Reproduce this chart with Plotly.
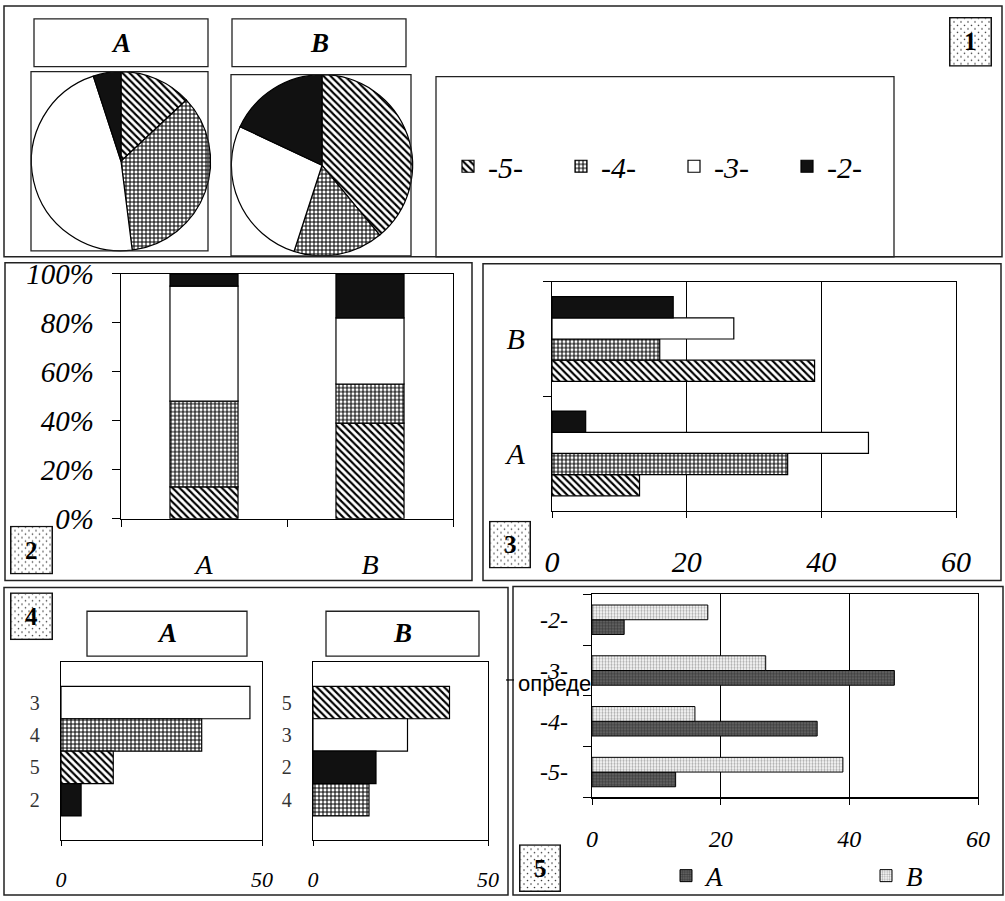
import base64
import plotly.graph_objects as go

W, H = 1005, 901


def X(p):
    return p / W


def Y(p):
    return 1 - p / H


# ---------------- data ----------------
grades = ["-5-", "-4-", "-3-", "-2-"]
grade_digits = ["5", "4", "3", "2"]
groups = ["A", "B"]
vals_A = [13, 35, 47, 5]
vals_B = [39, 16, 27, 18]
pct_ticks = [0, 20, 40, 60, 80, 100]
pct_labels = ["0%", "20%", "40%", "60%", "80%", "100%"]
count_ticks = [0, 20, 40, 60]
count_ticks_p4 = [0, 50]

# ---------------- styles ----------------
SERIF = "Liberation Serif"
fill_color = ["white", "white", "white", "#111111"]
fill_shape = ["\\", "+", "", ""]
pat_size = [5, 4, 6, 6]
pat_sol = [0.42, 0.45, 0.3, 0.3]


def italic(size, color="black"):
    return dict(family=SERIF, size=size, style="italic", color=color)


def bar_marker(i):
    return dict(color=fill_color[i], line=dict(color="black", width=1.2),
                pattern=dict(shape=fill_shape[i], fgcolor="black", bgcolor=fill_color[i],
                             size=pat_size[i], solidity=pat_sol[i], fillmode="replace"))


mark_A5 = dict(color="#555555", line=dict(color="black", width=1),
               pattern=dict(shape=".", fgcolor="#111111", bgcolor="#6a6a6a", size=3, solidity=0.55))
mark_B5 = dict(color="white", line=dict(color="black", width=1),
               pattern=dict(shape=".", fgcolor="#555555", bgcolor="white", size=3, solidity=0.45))

fig = go.Figure()

# ---------------- panel 1: pies ----------------
for vals, (x0, x1, y0, y1) in [(vals_A, (31, 211, 72, 252)), (vals_B, (231, 413, 75, 257))]:
    fig.add_trace(go.Pie(
        labels=grades, values=vals, sort=False, direction="clockwise", rotation=0,
        domain=dict(x=[X(x0), X(x1)], y=[Y(y1), Y(y0)]),
        marker=dict(colors=fill_color, line=dict(color="black", width=1.2),
                    pattern=dict(shape=fill_shape, fgcolor="black", bgcolor=fill_color,
                                 size=pat_size, solidity=pat_sol)),
        textinfo="none", hoverinfo="label+value", legend="legend", showlegend=True))

# ---------------- panel 2: 100% stacked columns ----------------
totals = [sum(vals_A), sum(vals_B)]
cum = [0.0, 0.0]
for i, g in enumerate(grades):
    v = [vals_A[i] / totals[0] * 100, vals_B[i] / totals[1] * 100]
    fig.add_trace(go.Bar(x=groups, y=v, base=list(cum), width=0.41, name=g,
                         marker=bar_marker(i), xaxis="x2", yaxis="y2", showlegend=False))
    cum = [c + vv for c, vv in zip(cum, v)]

# ---------------- panel 3: clustered horizontal bars ----------------
W3 = 0.185
for i, g in enumerate(grades):
    fig.add_trace(go.Bar(y=groups, x=[vals_A[i], vals_B[i]], orientation="h", width=W3,
                         offset=-2 * W3 + i * W3, name=g, marker=bar_marker(i),
                         xaxis="x3", yaxis="y3", showlegend=False))

# ---------------- panel 4: sorted bars per group ----------------
cat_arrays = []
for vals, xa, ya in [(vals_A, "x4", "y4"), (vals_B, "x5", "y5")]:
    order = sorted(range(len(vals)), key=lambda k: vals[k], reverse=True)
    for k in order:
        fig.add_trace(go.Bar(y=[grade_digits[k]], x=[vals[k]], orientation="h", width=1,
                             name=grades[k], marker=bar_marker(k), xaxis=xa, yaxis=ya,
                             showlegend=False))
    cat_arrays.append([grade_digits[k] for k in reversed(order)])

# ---------------- panel 5: bars by grade ----------------
W5 = 0.29
for vals, name, off, mk, lw in [(vals_A, "A", -W5, mark_A5, 155), (vals_B, "B", 0.0, mark_B5, 30)]:
    fig.add_trace(go.Bar(y=grades, x=vals, orientation="h", width=W5, offset=off, name=name,
                         marker=mk, xaxis="x6", yaxis="y6", legend="legend2", showlegend=True,
                         legendwidth=lw))


def ax(**kw):
    base = dict(showline=True, linecolor="black", linewidth=1.2, mirror=True, zeroline=False,
                showgrid=False, ticks="outside", tickcolor="black", fixedrange=True,
                automargin=False)
    base.update(kw)
    return base


layout = dict(
    width=W, height=H, autosize=False,
    margin=dict(l=0, r=0, t=0, b=0, pad=0),
    paper_bgcolor="white", plot_bgcolor="white",
    barmode="overlay",
    font=dict(family=SERIF, color="black"),
    xaxis2=ax(domain=[X(121), X(453)], anchor="y2", type="category", range=[-0.5, 1.5],
              tickson="boundaries", ticklen=7, tickfont=italic(28), ticklabelstandoff=21),
    yaxis2=ax(domain=[Y(521), Y(275)], anchor="x2", range=[0, 100], tickvals=pct_ticks,
              ticktext=pct_labels, ticklen=8, tickfont=italic(29), ticklabelstandoff=12),
    xaxis3=ax(domain=[X(552), X(956)], anchor="y3", range=[0, 60], tickvals=count_ticks,
              showgrid=True, gridcolor="black", gridwidth=1, ticklen=6, tickfont=italic(30),
              ticklabelstandoff=18),
    yaxis3=ax(domain=[Y(513), Y(283)], anchor="x3", type="category", categoryorder="array",
              categoryarray=groups, range=[-0.5, 1.5], tickson="boundaries", ticklen=8,
              tickfont=italic(30), ticklabelstandoff=20),
    xaxis4=ax(domain=[X(61), X(262)], anchor="y4", range=[0, 50], tickvals=count_ticks_p4,
              ticklen=5, tickfont=italic(22), ticklabelstandoff=14),
    yaxis4=ax(domain=[Y(844), Y(665)], anchor="x4", type="category", categoryorder="array",
              categoryarray=cat_arrays[0], range=[-1.25, 4.25], ticks="",
              tickfont=dict(family=SERIF, size=20, color="#333333"), ticklabelstandoff=16),
    xaxis5=ax(domain=[X(313), X(488)], anchor="y5", range=[0, 50], tickvals=count_ticks_p4,
              ticklen=5, tickfont=italic(22), ticklabelstandoff=14),
    yaxis5=ax(domain=[Y(844), Y(665)], anchor="x5", type="category", categoryorder="array",
              categoryarray=cat_arrays[1], range=[-1.25, 4.25], ticks="",
              tickfont=dict(family=SERIF, size=20, color="#333333"), ticklabelstandoff=16),
    xaxis6=ax(domain=[X(592), X(978)], anchor="y6", range=[0, 60], tickvals=count_ticks,
              showgrid=True, gridcolor="black", gridwidth=1, ticklen=6, tickfont=italic(24),
              ticklabelstandoff=14),
    yaxis6=ax(domain=[Y(801), Y(597)], anchor="x6", type="category", categoryorder="array",
              categoryarray=grades, range=[-0.5, 3.5], tickson="boundaries", ticklen=8,
              tickfont=italic(24), ticklabelstandoff=18),
    legend=dict(orientation="h", x=X(448), y=Y(167), xanchor="left", yanchor="middle",
                font=italic(30), bgcolor="rgba(0,0,0,0)", entrywidth=68,
                entrywidthmode="pixels", itemclick=False, itemdoubleclick=False),
    legend2=dict(orientation="h", x=X(666), y=Y(880), xanchor="left", yanchor="middle",
                 font=italic(27), bgcolor="rgba(0,0,0,0)", entrywidthmode="pixels",
                 itemclick=False, itemdoubleclick=False),
)
fig.update_layout(**layout)

# ---------------- decorations ----------------
shapes = []


def rect(x0, y0, x1, y1, w=1.5):
    shapes.append(dict(type="rect", xref="paper", yref="paper", x0=X(x0), x1=X(x1),
                       y0=Y(y1), y1=Y(y0), line=dict(color="#222222", width=w),
                       fillcolor="rgba(0,0,0,0)", layer="above"))


# panel frames
rect(4, 6, 1002, 258)
rect(5, 264, 472, 583)
rect(483, 265, 1001, 583)
rect(4, 590, 508, 899)
rect(513, 589, 1003, 899)
# panel-1 inner boxes
rect(31, 72, 208, 252, 1.3)
rect(231, 75, 411, 257, 1.3)
rect(436, 77, 894, 258, 1.3)
# header boxes
rect(34, 19, 208, 67, 1.3)
rect(232, 19, 406, 67, 1.3)
rect(87, 614, 247, 659, 1.3)
rect(326, 614, 479, 659, 1.3)
shapes.append(dict(type="line", xref="paper", yref="paper", x0=X(506), x1=X(514),
                   y0=Y(683), y1=Y(683), line=dict(color="black", width=1.2)))

annotations = []
for txt, cx, cy in [("A", 121, 43), ("B", 319, 43), ("A", 167, 636), ("B", 402, 636)]:
    annotations.append(dict(text=f"<b><i>{txt}</i></b>", xref="paper", yref="paper",
                            x=X(cx), y=Y(cy), showarrow=False, xanchor="center",
                            yanchor="middle", font=dict(family=SERIF, size=27, color="black")))

annotations.append(dict(text="опреде", xref="paper", yref="paper", x=X(516), y=Y(687),
                        showarrow=False, xanchor="left", yanchor="middle",
                        font=dict(family="Liberation Sans", size=22, color="black")))

# dotted panel-number boxes (decorative)
images = []
label_boxes = [("1", 949, 17, 992, 67), ("2", 10, 528, 53, 577), ("3", 489, 523, 531, 571),
               ("4", 10, 595, 53, 643), ("5", 519, 848, 561, 896)]
for num, x0, y0, x1, y1 in label_boxes:
    w, h = x1 - x0, y1 - y0
    svg = (f"<svg xmlns='http://www.w3.org/2000/svg' width='{w}' height='{h}' viewBox='0 0 {w} {h}'>"
           "<defs><pattern id='p' width='7' height='7' patternUnits='userSpaceOnUse'>"
           "<circle cx='1.5' cy='1.5' r='0.8' fill='#333'/><circle cx='5' cy='5' r='0.8' fill='#333'/>"
           "</pattern></defs>"
           f"<rect x='0.75' y='0.75' width='{w - 1.5}' height='{h - 1.5}' fill='white' stroke='#111' stroke-width='1.5'/>"
           f"<rect x='1.5' y='1.5' width='{w - 3}' height='{h - 3}' fill='url(#p)'/></svg>")
    uri = "data:image/svg+xml;base64," + base64.b64encode(svg.encode()).decode()
    images.append(dict(source=uri, xref="paper", yref="paper", x=X(x0), y=Y(y0),
                       sizex=w / W, sizey=h / H, xanchor="left", yanchor="top",
                       sizing="stretch", layer="above"))
    annotations.append(dict(text=f"<b>{num}</b>", xref="paper", yref="paper",
                            x=X((x0 + x1) / 2), y=Y((y0 + y1) / 2), showarrow=False,
                            xanchor="center", yanchor="middle",
                            font=dict(family=SERIF, size=25, color="black")))

fig.update_layout(shapes=shapes, annotations=annotations, images=images)

fig.write_html("out.html", config=dict(displayModeBar=False, staticPlot=True),
               post_script="document.body.style.margin='0';")
